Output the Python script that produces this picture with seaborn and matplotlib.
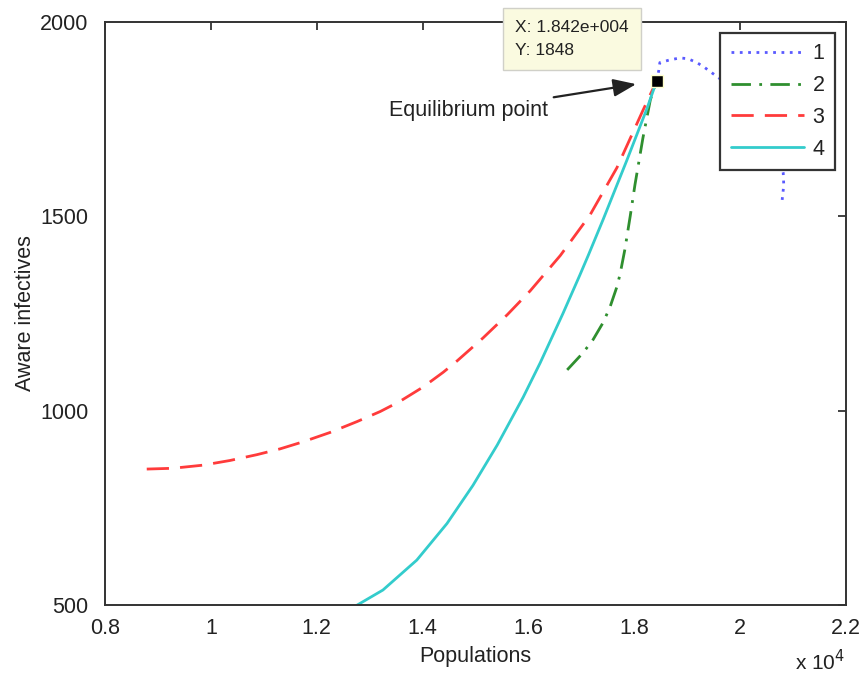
import matplotlib
matplotlib.use("Agg")
import matplotlib.pyplot as plt
import seaborn as sns
from matplotlib.ticker import FuncFormatter

# populations are given in units of 10^4 (the axis shows "x 10^4")
pop_1 = [1.842, 1.846, 1.848, 1.867, 1.886, 1.901, 1.918, 1.933, 1.949, 1.975,
         2.005, 2.035, 2.060, 2.075, 2.081, 2.082, 2.079]
inf_1 = [1848, 1875, 1895, 1902, 1907, 1905, 1895, 1882, 1866, 1840,
         1800, 1745, 1690, 1640, 1611, 1580, 1542]

pop_2 = [1.673, 1.703, 1.722, 1.741, 1.754, 1.767, 1.773, 1.782, 1.792, 1.801,
         1.816, 1.830, 1.842]
inf_2 = [1105, 1149, 1183, 1227, 1267, 1319, 1352, 1415, 1500, 1581,
         1701, 1799, 1848]

pop_3 = [0.879, 0.928, 0.985, 1.036, 1.087, 1.131, 1.174, 1.225, 1.276, 1.320,
         1.357, 1.401, 1.439, 1.465, 1.514, 1.560, 1.603, 1.660, 1.716, 1.767,
         1.816, 1.842]
inf_3 = [850, 852, 860, 872, 887, 902, 920, 944, 972, 998,
         1024, 1061, 1099, 1128, 1187, 1247, 1308, 1399, 1503, 1625,
         1772, 1848]

pop_4 = [1.276, 1.325, 1.389, 1.446, 1.495, 1.541, 1.590, 1.622, 1.665, 1.697,
         1.713, 1.741, 1.786, 1.824, 1.842]
inf_4 = [500, 539, 616, 710, 808, 912, 1035, 1123, 1250, 1349,
         1400, 1492, 1645, 1778, 1848]

eq_pop = 1.842
eq_inf = 1848

x_ticks = [0.8, 1.0, 1.2, 1.4, 1.6, 1.8, 2.0, 2.2]
y_ticks = [500, 1000, 1500, 2000]

sns.set_style("white")
plt.rcParams['font.family'] = ['Liberation Sans', 'DejaVu Sans']
text_col = '#222222'

fig = plt.figure(figsize=(8.6, 6.8), dpi=100)
ax = fig.add_axes([0.122, 0.110, 0.862, 0.858])

lw = 2.0
sns.lineplot(x=pop_1, y=inf_1, sort=False, estimator=None, ax=ax, color='#5a5aff',
             linewidth=lw, linestyle=(0, (1, 2)), label='1')
sns.lineplot(x=pop_2, y=inf_2, sort=False, estimator=None, ax=ax, color='#2f8f2f',
             linewidth=lw, linestyle=(0, (7, 3, 1, 3)), label='2')
sns.lineplot(x=pop_3, y=inf_3, sort=False, estimator=None, ax=ax, color='#ff3b3b',
             linewidth=lw, linestyle=(0, (8, 4)), label='3')
sns.lineplot(x=pop_4, y=inf_4, sort=False, estimator=None, ax=ax, color='#33cccc',
             linewidth=lw, linestyle='-', label='4')

# equilibrium marker (data tip)
ax.plot([eq_pop], [eq_inf], marker='s', markersize=9, color='black',
        markeredgecolor='#ffffcc', markeredgewidth=1, zorder=10, clip_on=False)

ax.set_xlim(0.8, 2.2)
ax.set_ylim(500, 2000)
ax.set_xticks(x_ticks)
ax.set_yticks(y_ticks)
ax.xaxis.set_major_formatter(FuncFormatter(lambda v, p: f"{v:g}"))
ax.tick_params(axis='both', direction='in', length=6, width=1.3, colors='#333333',
               labelcolor=text_col, labelsize=15.5, top=True, right=True)
ax.tick_params(axis='x', pad=9)
ax.tick_params(axis='y', pad=12)
for s in ax.spines.values():
    s.set_linewidth(1.4)
    s.set_color('#333333')

ax.set_xlabel('Populations', fontsize=15.5, color=text_col, labelpad=5)
ax.set_ylabel('Aware infectives', fontsize=15.5, color=text_col, labelpad=3)
fig.text(0.924, 0.008, r'x 10$^{4}$', fontsize=15, color=text_col, ha='left', va='bottom')

leg = ax.legend(loc='upper right', fontsize=15.5, handlelength=3.4, labelspacing=0.5,
                handletextpad=0.4, borderpad=0.5, borderaxespad=0.5,
                fancybox=False, framealpha=1, edgecolor='#333333')
leg.get_frame().set_linewidth(1.6)
for t in leg.get_texts():
    t.set_color(text_col)

# data tip box
ax.annotate('X: 1.842e+004\nY: 1848', xy=(eq_pop, eq_inf), xytext=(-28, 23),
            textcoords='offset pixels', ha='right', va='bottom', multialignment='left',
            fontsize=12.5, color=text_col, linespacing=1.65, annotation_clip=False, zorder=11,
            bbox=dict(boxstyle='square,pad=0.7', facecolor='#fafae0', edgecolor='#d0d0c8', lw=1))

ax.annotate('Equilibrium point', xy=(eq_pop, eq_inf), xytext=(-109, -30),
            textcoords='offset pixels', ha='right', va='center', fontsize=15.5, color=text_col,
            arrowprops=dict(arrowstyle='-|>,head_length=0.9,head_width=0.35', color=text_col,
                            lw=1.6, shrinkA=2, shrinkB=15))

fig.savefig('out.png', dpi=100)
